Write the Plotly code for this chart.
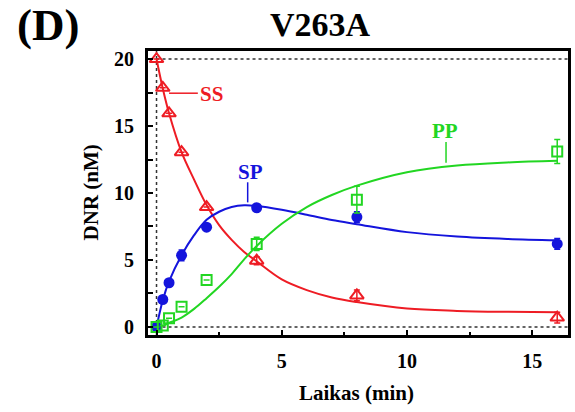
import plotly.graph_objects as go

# Measured points (time in min, DNR in nM)
t_ss = [0, 0.25, 0.5, 1, 2, 4, 8, 16]
ss = [20.0, 17.85, 15.95, 13.05, 8.95, 4.95, 2.35, 0.7]
ss_err = [0, 0, 0, 0, 0, 0.3, 0.4, 0.4]

t_sp = [0, 0.25, 0.5, 1, 2, 4, 8, 16]
sp = [0.0, 2.05, 3.3, 5.35, 7.45, 8.9, 8.2, 6.2]
sp_err = [0, 0, 0, 0.4, 0, 0, 0.4, 0.4]

t_pp = [0, 0.25, 0.5, 1, 2, 4, 8, 16]
pp = [0.0, 0.1, 0.65, 1.5, 3.5, 6.2, 9.5, 13.1]
pp_err = [0, 0, 0, 0, 0, 0.5, 1.0, 0.9]

# Fitted curves, sampled
t_fit = [0, 0.25, 0.5, 1, 1.5, 2, 2.5, 3, 3.5, 4, 5, 6, 7, 8, 10, 12, 14, 16]
ss_fit = [20.0, 17.8, 15.95, 13.05, 11.0, 9.1, 7.6, 6.5, 5.6, 4.9, 3.55, 2.75, 2.2, 1.86, 1.37, 1.2, 1.13, 1.1]
sp_fit = [0.0, 2.0, 3.4, 5.35, 6.85, 8.0, 8.6, 8.95, 9.08, 9.03, 8.75, 8.38, 7.98, 7.67, 7.08, 6.75, 6.57, 6.47]
pp_fit = [0.0, 0.1, 0.3, 0.7, 1.35, 2.15, 3.0, 3.95, 5.05, 6.05, 7.7, 8.95, 9.85, 10.55, 11.55, 12.05, 12.28, 12.4]

RED = "#ee1c24"
BLUE = "#1414dc"
GREEN = "#22d622"
FONT = "Liberation Serif, Times New Roman, serif"

fig = go.Figure()

# reference dotted lines at 0 and 20 nM and at t = 0
for x0, y0, x1, y1 in [(0, 0, 16.43, 0), (0, 20, 16.43, 20), (0, -0.6, 0, 20.6)]:
    fig.add_shape(type="line", x0=x0, y0=y0, x1=x1, y1=y1, xref="x", yref="y",
                  line=dict(color="#333333", width=1.5, dash="dot"), layer="below")

for y, c in [(ss_fit, RED), (sp_fit, BLUE), (pp_fit, GREEN)]:
    fig.add_trace(go.Scatter(x=t_fit, y=y, mode="lines",
                             line=dict(color=c, width=2, shape="spline", smoothing=1.0),
                             showlegend=False, hoverinfo="skip"))

fig.add_trace(go.Scatter(
    x=t_sp, y=sp, mode="markers", showlegend=False,
    marker=dict(symbol="circle", size=11, color=BLUE, line=dict(width=0)),
    error_y=dict(type="data", array=sp_err, color=BLUE, thickness=1.5, width=3)))
fig.add_trace(go.Scatter(
    x=t_ss, y=ss, mode="markers", showlegend=False,
    marker=dict(symbol="triangle-up-open", size=12, color=RED, line=dict(width=2)),
    error_y=dict(type="data", array=ss_err, color=RED, thickness=1.5, width=3)))
fig.add_trace(go.Scatter(
    x=t_pp, y=pp, mode="markers", showlegend=False,
    marker=dict(symbol="square-open", size=10, color=GREEN, line=dict(width=2)),
    error_y=dict(type="data", array=pp_err, color=GREEN, thickness=1.5, width=3)))

# curve labels with leader lines
fig.add_shape(type="line", x0=0.5, y0=17.45, x1=1.65, y1=17.45, line=dict(color=RED, width=1.5))
fig.add_shape(type="line", x0=3.64, y0=10.8, x1=3.64, y1=9.3, line=dict(color=BLUE, width=1.5))
fig.add_shape(type="line", x0=11.56, y0=13.8, x1=11.56, y1=12.25, line=dict(color=GREEN, width=1.5))

labels = [("SS", 2.2, 17.4, RED), ("SP", 3.75, 11.6, BLUE), ("PP", 11.53, 14.6, GREEN)]
for txt, x, y, c in labels:
    fig.add_annotation(x=x, y=y, text=f"<b>{txt}</b>", showarrow=False,
                       xanchor="center", yanchor="middle",
                       font=dict(family=FONT, size=21, color=c))

texts = [
    ("<b>V263A</b>", 0.411, 1.095, 0, 34),
    ("<b>(D)</b>", -0.239, 1.09, 0, 45),
    ("<b>DNR (nM)</b>", -0.135, 0.503, -90, 21),
    ("<b>Laikas (min)</b>", 0.496, -0.204, 0, 21),
]
for txt, x, y, ang, sz in texts:
    fig.add_annotation(xref="paper", yref="paper", x=x, y=y, text=txt, textangle=ang,
                       xanchor="center", yanchor="middle", showarrow=False,
                       font=dict(family=FONT, size=sz, color="black"))

axis_common = dict(showgrid=False, zeroline=False, showline=True, linecolor="black",
                   linewidth=3, mirror=True, ticks="inside", tickcolor="black",
                   tickwidth=2, ticklen=5,
                   tickfont=dict(family=FONT, size=20, color="black"))

fig.update_xaxes(range=[-0.34, 16.43], tickvals=[0, 5, 10, 15],
                 ticktext=["<b>0</b>", "<b>5</b>", "<b>10</b>", "<b>15</b>"],
                 ticklabelstandoff=6,
                 minor=dict(tickvals=[2.5, 7.5, 12.5], ticks="inside", ticklen=3,
                            tickwidth=2, tickcolor="black"),
                 **axis_common)
fig.update_yaxes(range=[-0.6, 20.6], tickvals=[0, 5, 10, 15, 20],
                 ticktext=["<b>0</b>", "<b>5</b>", "<b>10</b>", "<b>15</b>", "<b>20</b>"],
                 ticklabelstandoff=7,
                 minor=dict(tickvals=[2.5, 7.5, 12.5, 17.5], ticks="inside", ticklen=5,
                            tickwidth=2, tickcolor="black"),
                 **axis_common)

fig.update_layout(width=575, height=412, margin=dict(l=148, r=4, t=51, b=77),
                  plot_bgcolor="white", paper_bgcolor="white")

fig.write_html("out.html")
